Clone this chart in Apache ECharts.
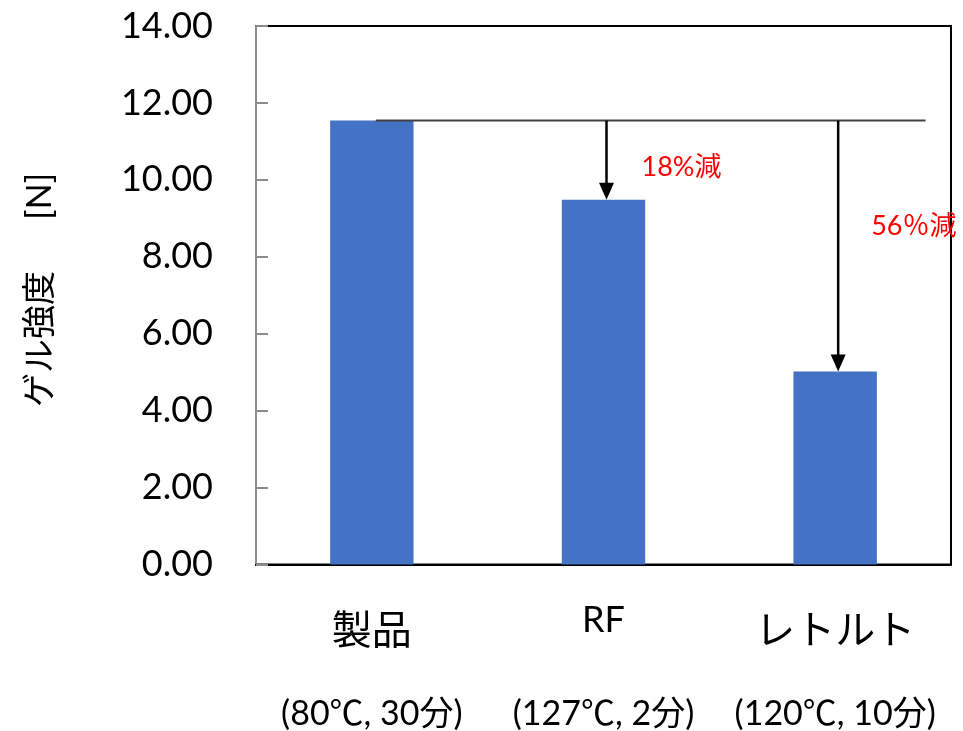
<!DOCTYPE html>
<html>
<head>
<meta charset="utf-8">
<script src="https://cdn.jsdelivr.net/npm/echarts@6/dist/echarts.min.js"></script>
<style>html,body{margin:0;padding:0;background:#fff}#c{width:963px;height:731px}</style>
</head>
<body>
<div id="c"></div>
<script>
const categories = ['製品', 'RF', 'レトルト'];
const conditions = ['(80℃, 30分)', '(127℃, 2分)', '(120℃, 10分)'];
const gelStrength = [11.54, 9.48, 5.02];
const reductionLabels = ['', '18%減', '56％減'];
const yTicks = [0, 2, 4, 6, 8, 10, 12, 14];

const FONT = 'Lato, "Noto Sans CJK JP", sans-serif';
const chart = echarts.init(document.getElementById('c'));

const refValue = gelStrength[0];
const arrowData = [];
for (let i = 1; i < categories.length; i++) {
  arrowData.push([i, refValue, gelStrength[i], reductionLabels[i]]);
}

chart.setOption({
  animation: false,
  backgroundColor: '#fff',
  grid: { left: 256, right: 12, top: 26, bottom: 166, show: true, borderColor: '#000', borderWidth: 2, backgroundColor: 'transparent' },
  xAxis: {
    type: 'category',
    data: categories,
    axisLine: { lineStyle: { color: '#000', width: 2 } },
    axisTick: { show: false },
    axisLabel: {
      margin: 25,
      interval: 0,
      formatter: function (v, i) {
        const key = /^[A-Za-z]+$/.test(v) ? 'r' : 'a';
        return '{' + key + '|' + v + '}\n{b|' + conditions[i] + '}';
      },
      rich: {
        a: { fontSize: 40, lineHeight: 83, fontFamily: FONT, color: '#000' },
        r: { fontSize: 36, lineHeight: 83, fontFamily: FONT, color: '#000', padding: [0, 0, 22, 0] },
        b: { fontSize: 34, lineHeight: 83, fontFamily: FONT, color: '#000' }
      }
    }
  },
  yAxis: {
    type: 'value',
    min: yTicks[0],
    max: yTicks[yTicks.length - 1],
    interval: 2,
    axisLine: { show: true, lineStyle: { color: '#8c8c8c', width: 2 } },
    axisTick: { show: true, inside: true, length: 12, lineStyle: { color: '#8c8c8c', width: 2 } },
    splitLine: { show: false },
    axisLabel: { margin: 43, fontSize: 36, fontFamily: FONT, color: '#000', formatter: v => v.toFixed(2) }
  },
  graphic: [{
    type: 'text',
    x: 40, y: 290,
    rotation: Math.PI / 2,
    style: { text: 'ゲル強度　  [N]', fontSize: 34, fontFamily: FONT, fill: '#000', align: 'center', verticalAlign: 'middle' }
  }],
  series: [
    {
      type: 'bar',
      data: gelStrength,
      barWidth: '36%',
      itemStyle: { color: '#4472C4' },
      z: 2
    },
    {
      type: 'custom',
      z: 5,
      data: [[0, refValue, categories.length - 1]],
      renderItem: function (params, api) {
        const p0 = api.coord([api.value(0), api.value(1)]);
        const p1 = api.coord([api.value(2), api.value(1)]);
        const band = api.size([1, 0])[0];
        return {
          type: 'line',
          shape: { x1: p0[0] + 4, y1: p0[1], x2: p1[0] + band * 0.39, y2: p1[1] },
          style: { stroke: '#404040', lineWidth: 2 }
        };
      }
    },
    {
      type: 'custom',
      z: 6,
      data: arrowData,
      renderItem: function (params, api) {
        const top = api.coord([api.value(0), api.value(1)]);
        const bot = api.coord([api.value(0), api.value(2)]);
        const x = top[0] + 3;
        const headH = 17, headW = 15;
        const label = arrowData[params.dataIndex][3];
        const isFirst = params.dataIndex === 0;
        const ty = isFirst ? (top[1] + bot[1]) / 2 + 7 : top[1] + 106;
        const tx = isFirst ? x + 35 : x + 33;
        return {
          type: 'group',
          children: [
            { type: 'line', shape: { x1: x, y1: top[1], x2: x, y2: bot[1] - headH + 2 }, style: { stroke: '#000', lineWidth: 2.5 } },
            { type: 'polygon', shape: { points: [[x - headW / 2, bot[1] - headH], [x + headW / 2, bot[1] - headH], [x, bot[1]]] }, style: { fill: '#000' } },
            { type: 'text', x: tx, y: ty, style: { text: label, fontSize: 27, fontFamily: FONT, fill: '#ff0000', align: 'left', verticalAlign: 'middle' } }
          ]
        };
      }
    }
  ]
});
</script>
</body>
</html>
